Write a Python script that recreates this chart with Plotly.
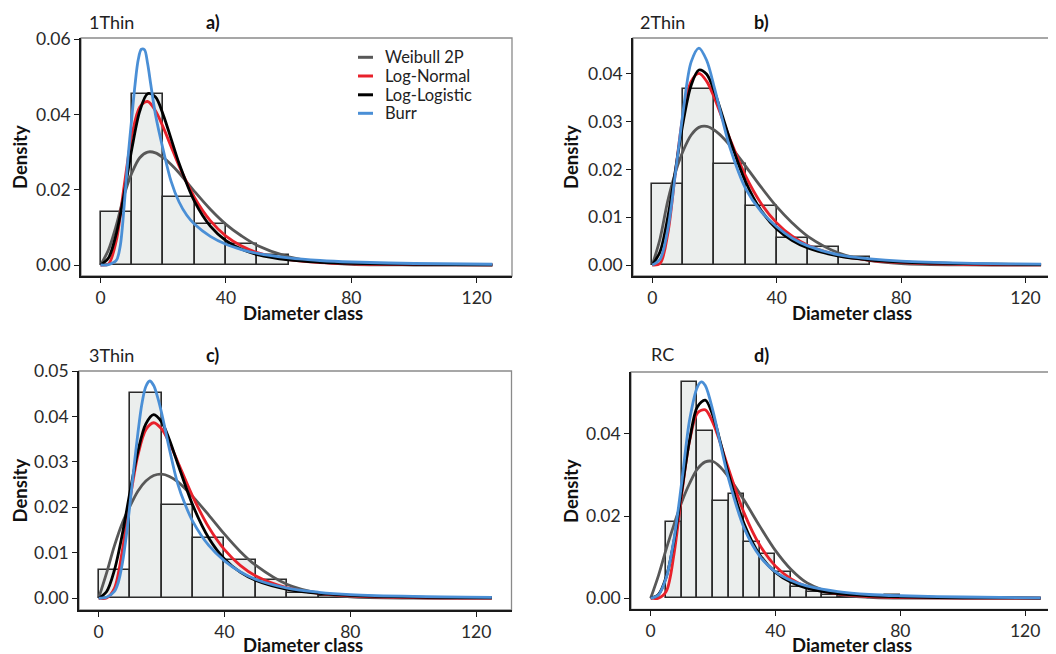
import plotly.graph_objects as go

# ---------------- data ----------------
X_GRID = [0, 2.5, 5, 7.5, 10, 12.5, 15, 17.5, 20, 22.5, 25, 30, 35, 40, 45, 50, 60, 70, 80, 100, 125]

# Panel a) 1Thin
a_mid = [5, 15, 25, 35, 45, 55]
a_hist = [0.0140, 0.0455, 0.0181, 0.0109, 0.0055, 0.0026]
a_weibull = [0, 0.0040, 0.0105, 0.0185, 0.0245, 0.0285, 0.0300, 0.0298, 0.0285, 0.0267, 0.0245, 0.0195,
             0.0148, 0.0108, 0.0077, 0.0052, 0.0022, 0.0008, 0.0002, 0.0000, 0.0000]
a_lognorm = [0, 0.00024, 0.00644, 0.02095, 0.03454, 0.04196, 0.04343, 0.0410, 0.03656, 0.03144, 0.0264,
             0.01787, 0.01178, 0.00768, 0.00502, 0.0033, 0.00146, 0.00067, 0.00032, 0.00008, 0.00002]
a_loglog = [0, 0.00184, 0.00827, 0.01885, 0.0310, 0.04087, 0.04551, 0.04461, 0.03987, 0.0335, 0.02708,
            0.01681, 0.01031, 0.00645, 0.00417, 0.00277, 0.00134, 0.00072, 0.00041, 0.00016, 0.00006]
a_burr_x = [0, 2.5, 5, 6.25, 7.5, 8.75, 10, 11, 12, 13, 14, 15, 16, 17.5, 20, 22.5, 25, 27.5, 30, 35, 40,
            45, 50, 60, 70, 80, 100, 125]
a_burr = [0, 0.0001, 0.0012, 0.0050, 0.0155, 0.0285, 0.0395, 0.0480, 0.0545, 0.0573, 0.0572, 0.0535,
          0.0480, 0.0400, 0.0305, 0.0222, 0.0168, 0.0132, 0.0108, 0.0076, 0.0055, 0.0041, 0.0031, 0.0019,
          0.0012, 0.0008, 0.0004, 0.0002]

# Panel b) 2Thin
b_mid = [5, 15, 25, 35, 45, 55, 65]
b_hist = [0.0169, 0.0369, 0.0212, 0.0124, 0.0056, 0.0037, 0.0017]
b_weibull = [0, 0.0055, 0.0135, 0.0195, 0.0240, 0.0272, 0.0288, 0.0290, 0.0282, 0.0268, 0.0250, 0.0207,
             0.0163, 0.0122, 0.0088, 0.0060, 0.0025, 0.0009, 0.0003, 0.00002, 0]
b_lognorm = [0, 0.00031, 0.00659, 0.01976, 0.03169, 0.03841, 0.0401, 0.03842, 0.0349, 0.03064, 0.02631,
             0.01865, 0.01288, 0.00881, 0.00602, 0.00413, 0.00199, 0.00099, 0.00051, 0.00015, 0.00004]
b_loglog = [0, 0.00278, 0.01004, 0.02009, 0.03021, 0.03763, 0.04081, 0.03991, 0.03625, 0.0313, 0.02616,
            0.01742, 0.0114, 0.00755, 0.00512, 0.00355, 0.00184, 0.00104, 0.00063, 0.00027, 0.00011]
b_burr_x = [0, 2.5, 5, 7.5, 10, 12.5, 15, 17.5, 20, 22.5, 25, 30, 35, 40, 45, 50, 60, 70, 80, 100, 125]
b_burr = [0, 0.0012, 0.0075, 0.0195, 0.0325, 0.0425, 0.0454, 0.0428, 0.0370, 0.0305, 0.0245, 0.0160,
          0.0112, 0.0080, 0.0056, 0.0040, 0.0021, 0.0013, 0.0008, 0.0004, 0.0002]

# Panel c) 3Thin
c_mid = [5, 15, 25, 35, 45, 55, 65, 75]
c_hist = [0.0061, 0.0451, 0.0205, 0.0132, 0.0084, 0.0039, 0.0011, 0.0004]
c_weibull = [0, 0.0055, 0.0115, 0.0165, 0.0203, 0.0236, 0.0258, 0.0270, 0.0273, 0.0268, 0.0257, 0.0223,
             0.0183, 0.0141, 0.0103, 0.0072, 0.0030, 0.0011, 0.0003, 0.00002, 0]
c_lognorm = [0, 0.00004, 0.00215, 0.01037, 0.02185, 0.03152, 0.03707, 0.03861, 0.03725, 0.03416, 0.03026,
             0.02226, 0.0156, 0.01067, 0.00723, 0.00488, 0.00225, 0.00106, 0.00051, 0.00013, 0.00003]
c_loglog = [0, 0.00141, 0.00615, 0.01399, 0.02351, 0.03239, 0.03838, 0.0404, 0.03881, 0.03485, 0.02988,
            0.02031, 0.01325, 0.00864, 0.00574, 0.0039, 0.00194, 0.00106, 0.00062, 0.00025, 0.0001]
c_burr_x = [0, 2.5, 5, 6.25, 7.5, 8.75, 10, 11.25, 12.5, 13.75, 15, 16.25, 17.5, 18.75, 20, 22.5, 25, 27.5,
            30, 35, 40, 45, 50, 60, 70, 80, 100, 125]
c_burr = [0, 0.0002, 0.0015, 0.0035, 0.0075, 0.0135, 0.0210, 0.0290, 0.0365, 0.0428, 0.0466, 0.0478,
          0.0468, 0.0442, 0.0408, 0.0328, 0.0255, 0.0206, 0.0168, 0.0116, 0.0082, 0.0058, 0.0041, 0.0022,
          0.0013, 0.0008, 0.0004, 0.0002]

# Panel d) RC
d_mid = [7.5, 12.5, 17.5, 22.5, 27.5, 32.5, 37.5, 42.5, 47.5, 52.5, 57.5, 62.5, 67.5, 72.5, 77.5]
d_hist = [0.0186, 0.0527, 0.0407, 0.0237, 0.0254, 0.0138, 0.0107, 0.0063, 0.0028, 0.0015, 0.0008,
          0.0002, 0.0001, 0.0001, 0.0007]
d_weibull = [0, 0.0055, 0.0120, 0.0180, 0.0235, 0.0280, 0.0315, 0.0332, 0.0333, 0.0318, 0.0295, 0.0238,
             0.0175, 0.0116, 0.0070, 0.0038, 0.0010, 0.0002, 0.00003, 0, 0]
d_lognorm = [0, 0.00001, 0.0017, 0.01084, 0.02561, 0.0384, 0.04511, 0.04589, 0.04265, 0.03735, 0.03143,
             0.02067, 0.01288, 0.00782, 0.00471, 0.00283, 0.00104, 0.0004, 0.00016, 0.00003, 0]
d_loglog = [0, 0.00091, 0.00524, 0.01404, 0.02632, 0.0386, 0.04665, 0.04826, 0.04437, 0.03756, 0.03016,
            0.01803, 0.01054, 0.00629, 0.00388, 0.00248, 0.00112, 0.00057, 0.00031, 0.00011, 0.00004]
d_burr_x = [0, 2.5, 5, 7.5, 10, 12.5, 15, 16.25, 17.5, 20, 22.5, 25, 30, 35, 40, 45, 50, 60, 70, 80, 100, 125]
d_burr = [0, 0.0008, 0.0050, 0.0145, 0.0285, 0.0435, 0.0515, 0.0527, 0.0518, 0.0455, 0.0370, 0.0290,
          0.0170, 0.0102, 0.0064, 0.0043, 0.0030, 0.0016, 0.0009, 0.0006, 0.0003, 0.0001]

X_TICKS = [0, 40, 80, 120]
SERIES_NAMES = ["Weibull 2P", "Log-Normal", "Log-Logistic", "Burr"]
SERIES_COLORS = ["#585858", "#e8212b", "#000000", "#4a8fd6"]

# ---------------- layout helpers ----------------
# The page body has an 8 px margin, so the figure is drawn 8 px smaller and
# reference pixel positions are shifted by that offset.
OFF = 8
W, H = 1056 - OFF, 654 - OFF
FONT = "Lato, 'Open Sans', sans-serif"


def fx(p):
    return (p - OFF) / W


def fy(p):
    return 1 - (p - OFF) / H


panels = [
    dict(name="1Thin", tag="a)", mid=a_mid, hist=a_hist, bw=10,
         curves=[(X_GRID, a_weibull), (X_GRID, a_lognorm), (X_GRID, a_loglog), (a_burr_x, a_burr)],
         xd=(81, 512), yd=(38, 276), xr=[-6.25, 131.25], yr=[-0.00292, 0.0603],
         yt=[0, 0.02, 0.04, 0.06], x1=1.0,
         lab=(111.7, 22), tagp=(212.5, 22), xt=(303, 313), ytl=(20, 157)),
    dict(name="2Thin", tag="b)", mid=b_mid, hist=b_hist, bw=10,
         curves=[(X_GRID, b_weibull), (X_GRID, b_lognorm), (X_GRID, b_loglog), (b_burr_x, b_burr)],
         xd=(633, 1056), yd=(38, 276), xr=[-6.2, 129.8], yr=[-0.0023, 0.0475],
         yt=[0, 0.01, 0.02, 0.03, 0.04], x1=1.05,
         lab=(662.3, 22), tagp=(761.7, 22), xt=(851.7, 313), ytl=(571, 157)),
    dict(name="3Thin", tag="c)", mid=c_mid, hist=c_hist, bw=10,
         curves=[(X_GRID, c_weibull), (X_GRID, c_lognorm), (X_GRID, c_loglog), (c_burr_x, c_burr)],
         xd=(79, 511.5), yd=(371, 610), xr=[-6.25, 131.25], yr=[-0.0026, 0.0500],
         yt=[0, 0.01, 0.02, 0.03, 0.04, 0.05], x1=1.0,
         lab=(111.7, 355), tagp=(212.5, 355), xt=(303, 645), ytl=(19.5, 491)),
    dict(name="RC", tag="d)", mid=d_mid, hist=d_hist, bw=5,
         curves=[(X_GRID, d_weibull), (X_GRID, d_lognorm), (X_GRID, d_loglog), (d_burr_x, d_burr)],
         xd=(631, 1056), yd=(372, 609.3), xr=[-6.3, 129.9], yr=[-0.0027, 0.0551],
         yt=[0, 0.02, 0.04], x1=1.05,
         lab=(662.5, 353.5), tagp=(761.7, 355), xt=(851.7, 645), ytl=(571, 491)),
]

fig = go.Figure()
annotations = []
shapes = []
layout_axes = {}

for i, p in enumerate(panels):
    n = "" if i == 0 else str(i + 1)
    xa, ya = "x" + n, "y" + n
    # histogram bars
    fig.add_trace(go.Bar(
        x=p["mid"], y=p["hist"], width=p["bw"], xaxis=xa, yaxis=ya,
        marker=dict(color="#ebeeed", line=dict(color="#2b2b2b", width=1.6)),
        showlegend=False, hoverinfo="skip"))
    # fitted density curves
    for k, (xs, ys) in enumerate(p["curves"]):
        fig.add_trace(go.Scatter(
            x=xs, y=ys, mode="lines", xaxis=xa, yaxis=ya,
            line=dict(color=SERIES_COLORS[k], width=2.8, shape="spline", smoothing=0.9),
            name=SERIES_NAMES[k], showlegend=False))

    axis_common = dict(showline=True, linecolor="#1a1a1a", linewidth=1.6, ticks="outside",
                       ticklen=5, tickwidth=1.4, tickcolor="#1a1a1a", showgrid=False, zeroline=False,
                       tickfont=dict(family=FONT, size=17.5, color="#2a2a2a"), fixedrange=True,
                       automargin=False)
    layout_axes["xaxis" + n] = dict(axis_common, domain=[fx(p["xd"][0]), min(1.0, fx(p["xd"][1]))],
                                    range=p["xr"], anchor=ya, tickvals=X_TICKS,
                                    ticktext=[str(v) for v in X_TICKS])
    layout_axes["yaxis" + n] = dict(axis_common, domain=[fy(p["yd"][1]), fy(p["yd"][0])],
                                    range=p["yr"], anchor=xa, tickvals=p["yt"],
                                    ticktext=["%.2f" % v for v in p["yt"]])
    # panel border (grey)
    shapes.append(dict(type="rect", xref=xa + " domain", yref=ya + " domain", x0=0, x1=p["x1"],
                       y0=0, y1=1, line=dict(color="#8a8a8a", width=1.3), layer="below"))
    # texts
    annotations += [
        dict(text=p["name"], x=fx(p["lab"][0]), y=fy(p["lab"][1]), xref="paper", yref="paper",
             showarrow=False, font=dict(family=FONT, size=18, color="#222222"),
             xanchor="center", yanchor="middle"),
        dict(text="<b>%s</b>" % p["tag"], x=fx(p["tagp"][0]), y=fy(p["tagp"][1]), xref="paper",
             yref="paper", showarrow=False, font=dict(family=FONT, size=18, color="#111111"),
             xanchor="center", yanchor="middle"),
        dict(text="<b>Diameter class</b>", x=fx(p["xt"][0]), y=fy(p["xt"][1]), xref="paper",
             yref="paper", showarrow=False, font=dict(family=FONT, size=18.5, color="#111111"),
             xanchor="center", yanchor="middle"),
        dict(text="<b>Density</b>", x=fx(p["ytl"][0]), y=fy(p["ytl"][1]), xref="paper",
             yref="paper", showarrow=False, textangle=-90,
             font=dict(family=FONT, size=18.5, color="#111111"), xanchor="center", yanchor="middle"),
    ]

# legend (panel a), drawn as short line keys with labels
LEG_ROWS = [57.3, 76.0, 94.8, 113.3]
for k, name in enumerate(SERIES_NAMES):
    yy = fy(LEG_ROWS[k])
    shapes.append(dict(type="line", xref="paper", yref="paper", x0=fx(358), x1=fx(373), y0=yy, y1=yy,
                       line=dict(color=SERIES_COLORS[k], width=3)))
    annotations.append(dict(text=name, x=fx(383), y=yy, xref="paper", yref="paper", showarrow=False,
                            xanchor="left", yanchor="middle",
                            font=dict(family=FONT, size=16.5, color="#222222")))

fig.update_layout(
    width=W, height=H, margin=dict(l=0, r=0, t=0, b=0, autoexpand=False),
    paper_bgcolor="white", plot_bgcolor="white",
    barmode="overlay", bargap=0, showlegend=False,
    font=dict(family=FONT),
    shapes=shapes, annotations=annotations,
    **layout_axes,
)

fig.write_html("out.html")
